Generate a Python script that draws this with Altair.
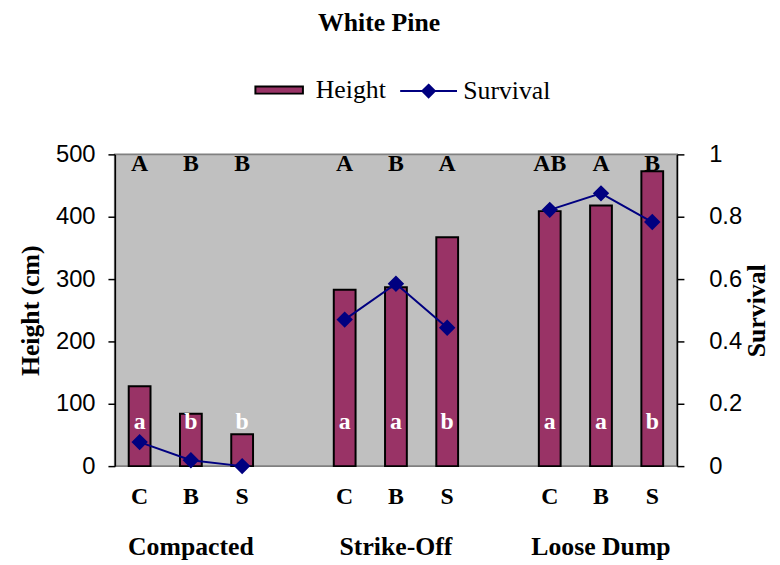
import altair as alt
import pandas as pd

groups = ["Compacted", "Strike-Off", "Loose Dump"]
treatments = ["C", "B", "S"]
height_cm = [128, 84, 51, 283, 287, 367, 409, 418, 473]
survival = [0.077, 0.019, 0.0, 0.47, 0.585, 0.444, 0.822, 0.875, 0.783]
upper_letters = ["A", "B", "B", "A", "B", "A", "AB", "A", "B"]
lower_letters = ["a", "b", "b", "a", "a", "b", "a", "a", "b"]

rows = []
for gi, g in enumerate(groups):
    for ti, t in enumerate(treatments):
        i = gi * 3 + ti
        rows.append(dict(group=g, treatment=t, key=f"{g} {t}",
                         height=height_cm[i], survival=survival[i],
                         upper=upper_letters[i], lower=lower_letters[i],
                         sh="Height", ss="Survival"))
df = pd.DataFrame(rows)

domain = []
for gi, g in enumerate(groups):
    if gi > 0:
        domain.append(f"gap{gi}")
    domain += [f"{g} {t}" for t in treatments]

gdf = pd.DataFrame({"group": groups, "key": [f"{g} B" for g in groups]})

SERIF = "Liberation Serif"
SANS = "Liberation Sans"

x = alt.X("key:N", scale=alt.Scale(domain=domain, paddingInner=0.575, paddingOuter=0.27), axis=None)

base = alt.Chart(df)

bars = base.mark_bar(stroke="black", strokeWidth=2).encode(
    x=x,
    y=alt.Y("height:Q", scale=alt.Scale(domain=[0, 500], nice=False),
            axis=alt.Axis(values=[0, 100, 200, 300, 400, 500], title="Height (cm)",
                          labelFont=SANS, labelFontSize=24, labelColor="black",
                          tickSize=7, tickColor="black", tickWidth=1.5,
                          domainColor="black", domainWidth=1.5, labelPadding=13,
                          titleFont=SERIF, titleFontSize=26, titleFontWeight="bold",
                          titleColor="black", titlePadding=12, grid=False)),
    fill=alt.Fill("sh:N", scale=alt.Scale(domain=["Height"], range=["#993366"]),
                  legend=alt.Legend(title=None, orient="none", legendX=141, legendY=-90,
                                    direction="horizontal",
                                    symbolType="M-1,-0.15H1V0.15H-1Z", symbolSize=2304,
                                    symbolStrokeColor="black", symbolStrokeWidth=2,
                                    labelFont=SERIF, labelFontSize=26, labelColor="black",
                                    labelOffset=12, padding=0)),
)

line = base.mark_line(color="#000080", strokeWidth=2,
                      point=alt.OverlayMarkDef(shape="diamond", size=190, filled=True,
                                               color="#000080")).encode(
    x=x,
    y=alt.Y("survival:Q", scale=alt.Scale(domain=[0, 1], nice=False),
            axis=alt.Axis(orient="right", values=[0, 0.2, 0.4, 0.6, 0.8, 1], format="~g",
                          title="Survival", titleAngle=270,
                          labelFont=SANS, labelFontSize=24, labelColor="black",
                          tickSize=7, tickColor="black", tickWidth=1.5,
                          domainColor="black", domainWidth=1.5, labelPadding=25,
                          titleFont=SERIF, titleFontSize=26, titleFontWeight="bold",
                          titleColor="black", titlePadding=28, grid=False)),
    detail="group:N",
    stroke=alt.Stroke("ss:N", scale=alt.Scale(domain=["Survival"], range=["#000080"]),
                      legend=alt.Legend(title=None, orient="none", legendX=287, legendY=-94,
                                        direction="horizontal",
                                        symbolType="M-1,0H1M0,-0.22L0.22,0L0,0.22L-0.22,0Z",
                                        symbolSize=3300, symbolStrokeColor="#000080",
                                        symbolFillColor="#000080", symbolStrokeWidth=2,
                                        labelFont=SERIF, labelFontSize=26, labelColor="black",
                                        labelOffset=5, padding=0)),
)

top_txt = base.mark_text(font=SERIF, fontSize=24, fontWeight="bold", color="black",
                         baseline="alphabetic").encode(x=x, y=alt.value(17), text="upper:N")
low_txt = base.mark_text(font=SERIF, fontSize=24, fontWeight="bold", color="white",
                         baseline="alphabetic").encode(x=x, y=alt.value(277), text="lower:N")
trt_txt = base.mark_text(font=SERIF, fontSize=24, fontWeight="bold", color="black",
                         baseline="alphabetic").encode(x=x, y=alt.value(353), text="treatment:N")
grp_txt = alt.Chart(gdf).mark_text(font=SERIF, fontSize=26, fontWeight="bold", color="black",
                                   baseline="alphabetic").encode(x=x, y=alt.value(405), text="group:N")

chart = alt.layer(bars, line, top_txt, low_txt, trt_txt, grp_txt).resolve_scale(
    y="independent"
).properties(
    width=568, height=315,
    title=alt.Title("White Pine", font=SERIF, fontSize=26, fontWeight="bold", color="black",
                    anchor="middle", frame="group", dx=-17, offset=26),
    autosize="none",
    padding={"left": 108, "top": 145, "right": 96, "bottom": 97},
).configure_view(fill="#C0C0C0", stroke="#808080", strokeWidth=2)

chart.save("out.html", embed_options={"renderer": "svg", "actions": False})
